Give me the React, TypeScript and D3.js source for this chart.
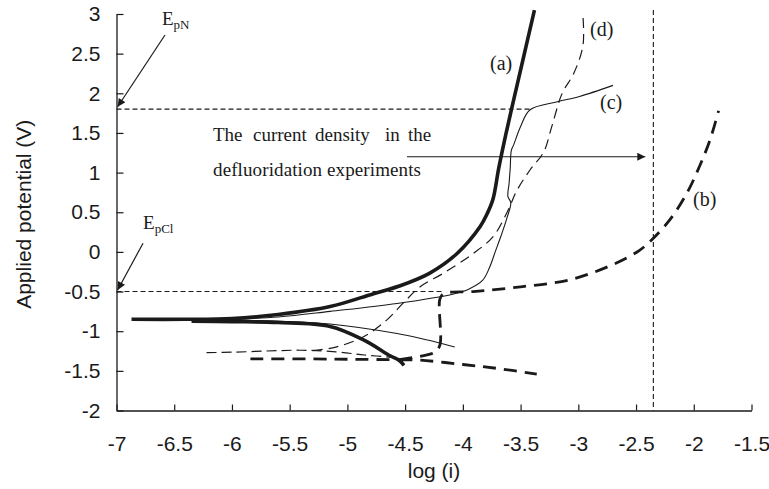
import React, { useEffect, useRef } from 'react'
import * as d3 from 'd3'

// polarization curves, [log(i), E (V)]
const curveA_anodic: [number, number][] = [[-6.87, -0.85], [-6.4, -0.85], [-6.0, -0.84], [-5.6, -0.79], [-5.15, -0.69], [-4.78, -0.53], [-4.55, -0.43], [-4.29, -0.27], [-4.05, -0.02], [-3.85, 0.32], [-3.79, 0.48], [-3.74, 0.66], [-3.69, 1.05], [-3.64, 1.40], [-3.58, 1.79], [-3.48, 2.42], [-3.38, 3.05]]
const curveA_cathodic: [number, number][] = [[-6.35, -0.875], [-6.0, -0.88], [-5.6, -0.89], [-5.15, -0.94], [-4.86, -1.11], [-4.63, -1.31], [-4.55, -1.37], [-4.51, -1.43]]
const curveB_left: [number, number][] = [[-5.84, -1.35], [-5.3, -1.35], [-4.9, -1.355], [-4.55, -1.36]]
const curveB_anodic: [number, number][] = [[-4.55, -1.36], [-4.35, -1.31], [-4.25, -1.27], [-4.2, -1.18], [-4.2, -0.6], [-4.17, -0.53], [-3.91, -0.50], [-3.5, -0.44], [-3.07, -0.35], [-2.67, -0.14], [-2.47, 0.02], [-2.38, 0.13], [-2.21, 0.40], [-2.06, 0.74], [-1.95, 1.08], [-1.86, 1.41], [-1.785, 1.78]]
const curveB_cathodic: [number, number][] = [[-4.55, -1.36], [-4.37, -1.365], [-4.0, -1.42], [-3.7, -1.47], [-3.36, -1.54]]
const curveC_anodic: [number, number][] = [[-6.2, -0.86], [-5.6, -0.82], [-5.15, -0.75], [-4.57, -0.65], [-4.08, -0.53], [-3.95, -0.47], [-3.83, -0.36], [-3.77, -0.2], [-3.72, 0.0], [-3.67, 0.2], [-3.62, 0.42], [-3.585, 0.62], [-3.61, 0.70], [-3.60, 0.86], [-3.59, 1.05], [-3.58, 1.28], [-3.56, 1.35], [-3.50, 1.58], [-3.42, 1.79], [-3.19, 1.89], [-2.99, 1.96], [-2.70, 2.10]]
const curveC_cathodic: [number, number][] = [[-6.0, -0.86], [-5.5, -0.88], [-5.15, -0.91], [-4.57, -1.03], [-4.37, -1.09], [-4.07, -1.20]]
const curveD_cathodic: [number, number][] = [[-6.22, -1.27], [-6.0, -1.265], [-5.7, -1.25], [-5.4, -1.24], [-5.1, -1.26], [-4.85, -1.30], [-4.6, -1.33]]
const curveD_anodic: [number, number][] = [[-5.3, -1.245], [-5.1, -1.2], [-4.86, -1.07], [-4.66, -0.86], [-4.52, -0.65], [-4.37, -0.44], [-4.17, -0.27], [-3.91, -0.02], [-3.74, 0.19], [-3.62, 0.49], [-3.53, 0.78], [-3.42, 1.03], [-3.30, 1.26], [-3.23, 1.58], [-3.14, 2.0], [-3.04, 2.25], [-2.96, 2.6], [-2.96, 2.98]]

// reference levels
const E_pN = 1.8
const E_pCl = -0.5
const logIExp = -2.35

const xTicks = [-7, -6.5, -6, -5.5, -5, -4.5, -4, -3.5, -3, -2.5, -2, -1.5]
const yTicks = [-2, -1.5, -1, -0.5, 0, 0.5, 1, 1.5, 2, 2.5, 3]

const curveLabels = [
    { text: '(a)', at: [-3.765, 2.294] },
    { text: '(b)', at: [-2.006, 0.579] },
    { text: '(c)', at: [-2.812, 1.802] },
    { text: '(d)', at: [-2.899, 2.723] },
]

const W = 769
const H = 489

function App() {
    const ref = useRef<SVGSVGElement>(null)

    useEffect(() => {
        const svg = d3.select(ref.current)
        svg.selectAll('*').remove()

        const x = d3.scaleLinear().domain([-7, -1.5]).range([116.5, 751.5])
        const y = d3.scaleLinear().domain([-2, 3]).range([410.5, 14])
        const ink = '#1a1a1a'
        const sans = '"Liberation Sans", Arial, sans-serif'
        const serif = '"Liberation Serif", "Times New Roman", serif'
        const fmt = (d: d3.NumberValue) => String(d)

        const defs = svg.append('defs')
        defs.append('marker')
            .attr('id', 'arr')
            .attr('viewBox', '0 0 10 10')
            .attr('refX', 10).attr('refY', 5)
            .attr('markerWidth', 11).attr('markerHeight', 8)
            .attr('markerUnits', 'userSpaceOnUse')
            .attr('orient', 'auto')
            .append('path')
            .attr('d', 'M0,0 L10,5 L0,10 Z')
            .attr('fill', ink)

        // axes
        const yAxis = svg.append('g')
            .attr('transform', `translate(${x(-7)},0)`)
            .call(d3.axisLeft(y).tickValues(yTicks).tickSize(-7).tickPadding(16).tickSizeOuter(0).tickFormat(fmt))
        const xAxis = svg.append('g')
            .attr('transform', `translate(0,${y(-2)})`)
            .call(d3.axisBottom(x).tickValues(xTicks).tickSize(-6).tickPadding(26).tickSizeOuter(0).tickFormat(fmt))

        for (const ax of [xAxis, yAxis]) {
            ax.select('.domain').attr('stroke', ink).attr('stroke-width', 1.3)
            ax.selectAll('line').attr('stroke', ink).attr('stroke-width', 1.2)
            ax.selectAll('text')
                .attr('fill', ink)
                .style('font-family', sans)
                .style('font-size', '21px')
        }

        // axis titles
        svg.append('text')
            .attr('transform', `translate(31,${y(0.5) + 2}) rotate(-90)`)
            .attr('text-anchor', 'middle')
            .style('font-family', sans).style('font-size', '21px')
            .attr('fill', ink)
            .text('Applied potential (V)')
        svg.append('text')
            .attr('x', x(-4.25)).attr('y', 478)
            .attr('text-anchor', 'middle')
            .style('font-family', sans).style('font-size', '21px')
            .attr('fill', ink)
            .text('log (i)')

        // reference lines
        const refG = svg.append('g').attr('stroke', ink).attr('stroke-width', 1.1).attr('fill', 'none').attr('stroke-dasharray', '5,3')
        refG.append('line').attr('x1', x(-7)).attr('x2', x(-3.42)).attr('y1', y(E_pN)).attr('y2', y(E_pN))
        refG.append('line').attr('x1', x(-7)).attr('x2', x(-4.17)).attr('y1', y(E_pCl)).attr('y2', y(E_pCl))
        refG.append('line').attr('x1', x(logIExp)).attr('x2', x(logIExp)).attr('y1', y(3.05)).attr('y2', y(-2))

        // curves
        const line = d3.line<[number, number]>()
            .x(d => x(d[0]))
            .y(d => y(d[1]))
            .curve(d3.curveCatmullRom.alpha(0.5))

        const series = [
            { data: curveA_anodic, w: 3.6, dash: null },
            { data: curveA_cathodic, w: 3.6, dash: null },
            { data: curveC_anodic, w: 1.1, dash: null },
            { data: curveC_cathodic, w: 1.1, dash: null },
            { data: curveD_cathodic, w: 1.2, dash: '10,5' },
            { data: curveD_anodic, w: 1.2, dash: '10,6' },
            { data: curveB_left, w: 2.8, dash: '13,8' },
            { data: curveB_anodic, w: 2.8, dash: '13,8' },
            { data: curveB_cathodic, w: 2.8, dash: '13,8' },
        ]
        svg.append('g')
            .selectAll('path')
            .data(series)
            .join('path')
            .attr('d', d => line(d.data))
            .attr('fill', 'none')
            .attr('stroke', ink)
            .attr('stroke-width', d => d.w)
            .attr('stroke-dasharray', d => d.dash)

        // curve labels
        svg.append('g')
            .selectAll('text')
            .data(curveLabels)
            .join('text')
            .attr('x', d => x(d.at[0]))
            .attr('y', d => y(d.at[1]))
            .style('font-family', serif).style('font-size', '20px')
            .attr('fill', ink)
            .text(d => d.text)

        // potential annotations
        const sub = (label: string, sb: string, at: number[]) => {
            const t = svg.append('text')
                .attr('x', x(at[0])).attr('y', y(at[1]))
                .style('font-family', serif).style('font-size', '19px')
                .attr('fill', ink)
            t.append('tspan').text(label)
            t.append('tspan').attr('dy', 4).style('font-size', '13px').text(sb)
        }
        sub('E', 'pN', [-6.606, 2.861])
        sub('E', 'pCl', [-6.77, 0.289])

        const arrows = [
            { from: [-6.58, 2.735], to: [-6.99, 1.83] },
            { from: [-6.77, 0.11], to: [-6.99, -0.48] },
            { from: [-4.484, 1.2], to: [-2.42, 1.2] },
        ]
        svg.append('g')
            .selectAll('line')
            .data(arrows)
            .join('line')
            .attr('x1', d => x(d.from[0])).attr('y1', d => y(d.from[1]))
            .attr('x2', d => x(d.to[0])).attr('y2', d => y(d.to[1]))
            .attr('stroke', ink).attr('stroke-width', 1.2)
            .attr('marker-end', 'url(#arr)')

        // two-line note; first line justified word by word, starts in log(i) units
        const words = [
            { w: 'The', x0: -6.164, line: 0 },
            { w: 'current', x0: -5.818, line: 0 },
            { w: 'density', x0: -5.281, line: 0 },
            { w: 'in', x0: -4.675, line: 0 },
            { w: 'the', x0: -4.476, line: 0 },
            { w: 'defluoridation experiments', x0: -6.164, line: 1 },
        ]
        const lineY = [1.398, 0.957]
        svg.append('g')
            .selectAll('text')
            .data(words)
            .join('text')
            .attr('x', d => x(d.x0))
            .attr('y', d => y(lineY[d.line]))
            .attr('textLength', d => d.line === 1 ? 208 : null)
            .attr('lengthAdjust', 'spacing')
            .style('font-family', serif).style('font-size', '19px')
            .attr('fill', ink)
            .text(d => d.w)
    }, [])

    return (
        <svg ref={ref} width={W} height={H} style={{ position: 'absolute', left: 0, top: 0, background: '#fff' }} />
    )
}

export default App
